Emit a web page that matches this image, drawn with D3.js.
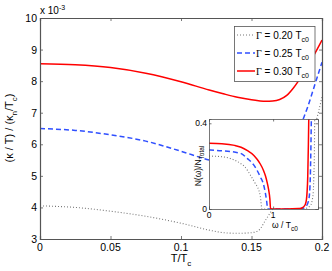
<!DOCTYPE html>
<html>
<head>
<meta charset="utf-8">
<script src="https://cdn.jsdelivr.net/npm/d3@7"></script>
<style>
  body { margin: 0; background: #fff; }
  svg { display: block; font-family: "Liberation Sans", Arial, sans-serif; }
</style>
</head>
<body>
<div id="chart"></div>
<script>
// main plot: T/Tc grid and kappa/T curves (x 1e-3)
const tGrid = [0, 0.025, 0.05, 0.075, 0.1, 0.12, 0.13, 0.14, 0.15, 0.155, 0.16, 0.165, 0.17, 0.175, 0.18, 0.185, 0.19, 0.195, 0.2];
const kappa20 = [4.05, 4.0, 3.88, 3.72, 3.5, 3.28, 3.2, 3.18, 3.2, 3.27, 3.6, 3.95, 4.3, 4.7, 5.1, 5.55, 6.0, 6.6, 7.5];
const kappa25 = [6.5, 6.44, 6.3, 6.1, 5.78, 5.5, 5.4, 5.3, 5.24, 5.23, 5.25, 5.3, 5.4, 5.6, 5.95, 6.6, 7.2, 7.9, 8.6];
const kappa30 = [8.55, 8.52, 8.43, 8.25, 7.98, 7.72, 7.6, 7.49, 7.41, 7.38, 7.36, 7.37, 7.42, 7.55, 7.8, 8.12, 8.48, 8.88, 9.3];
const xTicks = [0, 0.05, 0.1, 0.15, 0.2];
const yTicks = [3, 4, 5, 6, 7, 8, 9, 10];

// inset: density of states
const w20 = [0, 0.2, 0.49, 0.55, 0.644, 0.72, 0.775, 0.8, 0.827, 0.9, 1.3, 1.5, 1.58, 1.62, 1.635, 1.645, 1.65];
const dos20 = [0.247, 0.244, 0.213, 0.2, 0.159, 0.12, 0.089, 0.06, 0, 0, 0, 0.003, 0.015, 0.06, 0.15, 0.3, 0.5];
const w25 = [0, 0.2, 0.49, 0.6, 0.7, 0.8, 0.85, 0.88, 0.9, 0.915, 1.0, 1.3, 1.45, 1.52, 1.56, 1.58, 1.59, 1.6];
const dos25 = [0.275, 0.272, 0.26, 0.235, 0.205, 0.15, 0.115, 0.073, 0.035, 0, 0, 0, 0.003, 0.015, 0.05, 0.15, 0.3, 0.5];
const w30 = [0, 0.2, 0.4, 0.5, 0.6, 0.7, 0.75, 0.8, 0.85, 0.88, 0.91, 0.93, 0.95, 0.96, 1.0, 1.2, 1.4, 1.45, 1.5, 1.52, 1.54, 1.55, 1.56];
const dos30 = [0.307, 0.305, 0.297, 0.288, 0.272, 0.25, 0.232, 0.21, 0.18, 0.155, 0.12, 0.09, 0.045, 0, 0, 0, 0.002, 0.005, 0.02, 0.045, 0.15, 0.3, 0.5];
const insetXTicks = [0, 1];
const insetYTicks = [0, 0.4];

const gammaLabels = ["0.20", "0.25", "0.30"];

const W = 332, H = 271;
const axisColor = "#555";
const styles = [
    { color: "#777", width: 1.1, dash: "1,2" },
    { color: "#2f4fff", width: 1.5, dash: "5,3" },
    { color: "#ff0000", width: 1.5, dash: null }
];

const svg = d3.select("#chart").append("svg")
    .attr("width", W)
    .attr("height", H);
const defs = svg.append("defs");

// ---------- main axes ----------
const m = { left: 40, right: 322, top: 18, bottom: 239 };
const x = d3.scaleLinear().domain([0, 0.2]).range([m.left, m.right]);
const y = d3.scaleLinear().domain([3, 10]).range([m.bottom, m.top]);

defs.append("clipPath").attr("id", "mainClip")
    .append("rect")
    .attr("x", m.left).attr("y", m.top)
    .attr("width", m.right - m.left).attr("height", m.bottom - m.top);

const line = d3.line()
    .x(d => x(d[0]))
    .y(d => y(d[1]))
    .curve(d3.curveMonotoneX);

[kappa20, kappa25, kappa30].forEach((s, i) => {
    svg.append("path")
        .datum(tGrid.map((t, j) => [t, s[j]]))
        .attr("clip-path", "url(#mainClip)")
        .attr("d", line)
        .attr("fill", "none")
        .attr("stroke", styles[i].color)
        .attr("stroke-width", styles[i].width)
        .attr("stroke-dasharray", styles[i].dash);
});

function boxAxes(g, xs, ys, xt, yt, len) {
    g.append("g").attr("transform", `translate(0,${ys.range()[0]})`)
        .call(d3.axisBottom(xs).tickValues(xt).tickSize(-len).tickFormat(""));
    g.append("g").attr("transform", `translate(0,${ys.range()[1]})`)
        .call(d3.axisTop(xs).tickValues(xt).tickSize(-len).tickFormat(""));
    g.append("g").attr("transform", `translate(${xs.range()[0]},0)`)
        .call(d3.axisLeft(ys).tickValues(yt).tickSize(-len).tickFormat(""));
    g.append("g").attr("transform", `translate(${xs.range()[1]},0)`)
        .call(d3.axisRight(ys).tickValues(yt).tickSize(-len).tickFormat(""));
    g.selectAll(".domain, .tick line").attr("stroke", axisColor).attr("stroke-width", 0.8);
}

const mainAxes = svg.append("g");
boxAxes(mainAxes, x, y, xTicks, yTicks, 3);
mainAxes.selectAll(".domain").attr("stroke-width", 1.2);

svg.append("g").selectAll("text")
    .data(xTicks).enter().append("text")
    .attr("x", d => x(d))
    .attr("y", 251)
    .attr("text-anchor", "middle")
    .attr("font-size", 10.5)
    .text(d => d3.format("~g")(d));

svg.append("g").selectAll("text")
    .data(yTicks).enter().append("text")
    .attr("x", m.left - 3)
    .attr("y", d => y(d) + 4)
    .attr("text-anchor", "end")
    .attr("font-size", 10.5)
    .text(d => d);

const expo = svg.append("text").attr("x", 40).attr("y", 14).attr("font-size", 10);
expo.append("tspan").text("x 10");
expo.append("tspan").attr("dy", -4).attr("font-size", 7).text("-3");

const xl = svg.append("text").attr("x", 181).attr("y", 262)
    .attr("text-anchor", "middle").attr("font-size", 11);
xl.append("tspan").text("T/T");
xl.append("tspan").attr("dy", 4).attr("font-size", 8).text("c");

const yl = svg.append("g").attr("transform", "translate(13,128) rotate(-90)")
    .append("text")
    .attr("text-anchor", "middle").attr("font-size", 11);
yl.append("tspan").text("(κ / T) / (κ");
yl.append("tspan").attr("dy", 4).attr("font-size", 8).text("n");
yl.append("tspan").attr("dy", -4).text("/T");
yl.append("tspan").attr("dy", 4).attr("font-size", 8).text("c");
yl.append("tspan").attr("dy", -4).text(")");

// ---------- legend ----------
const leg = svg.append("g");
leg.append("rect")
    .attr("x", 234.5).attr("y", 26.5).attr("width", 80.5).attr("height", 55)
    .attr("fill", "#fff").attr("stroke", axisColor).attr("stroke-width", 0.8);
gammaLabels.forEach((lab, i) => {
    const ly = 35 + i * 18;
    leg.append("line")
        .attr("x1", 237).attr("x2", 255).attr("y1", ly).attr("y2", ly)
        .attr("stroke", styles[i].color)
        .attr("stroke-width", styles[i].width)
        .attr("stroke-dasharray", styles[i].dash);
    const t = leg.append("text").attr("x", 256).attr("y", ly + 3.5).attr("font-size", 10);
    t.append("tspan").attr("font-family", "'Liberation Serif', serif").text("Γ");
    t.append("tspan").text(` = ${lab} T`);
    t.append("tspan").attr("dy", 3).attr("font-size", 7).text("c0");
});

// ---------- inset ----------
const ins = { left: 209, right: 318, top: 119, bottom: 209 };
const ix = d3.scaleLinear().domain([0, 1.7]).range([ins.left, ins.right]);
const iy = d3.scaleLinear().domain([0, 0.42]).range([ins.bottom, ins.top]);

svg.append("rect")
    .attr("x", ins.left).attr("y", ins.top)
    .attr("width", ins.right - ins.left).attr("height", ins.bottom - ins.top)
    .attr("fill", "#fff");

defs.append("clipPath").attr("id", "insetClip")
    .append("rect")
    .attr("x", ins.left).attr("y", ins.top)
    .attr("width", ins.right - ins.left).attr("height", ins.bottom - ins.top);

const iline = d3.line()
    .x(d => ix(d[0]))
    .y(d => iy(d[1]))
    .curve(d3.curveMonotoneX);

[[w20, dos20], [w25, dos25], [w30, dos30]].forEach((s, i) => {
    svg.append("path")
        .datum(s[0].map((w, j) => [w, s[1][j]]))
        .attr("clip-path", "url(#insetClip)")
        .attr("d", iline)
        .attr("fill", "none")
        .attr("stroke", styles[i].color)
        .attr("stroke-width", styles[i].width)
        .attr("stroke-dasharray", styles[i].dash);
});

boxAxes(svg.append("g"), ix, iy, insetXTicks, insetYTicks, 2.5);

svg.append("g").selectAll("text")
    .data(insetXTicks).enter().append("text")
    .attr("x", d => ix(d))
    .attr("y", 217.5)
    .attr("text-anchor", "middle")
    .attr("font-size", 8.5)
    .text(d => d);

svg.append("g").selectAll("text")
    .data(insetYTicks).enter().append("text")
    .attr("x", ins.left - 2)
    .attr("y", d => iy(d) + 3)
    .attr("text-anchor", "end")
    .attr("font-size", 8.5)
    .text(d => d);

const ixl = svg.append("text").attr("x", 272).attr("y", 228).attr("font-size", 8.5);
ixl.append("tspan").text("ω / T");
ixl.append("tspan").attr("dy", 3).attr("font-size", 6.5).text("c0");

const iyl = svg.append("g").attr("transform", "translate(201,166) rotate(-90)")
    .append("text")
    .attr("text-anchor", "middle").attr("font-size", 8.5);
iyl.append("tspan").text("N(ω)/N");
iyl.append("tspan").attr("dy", 3).attr("font-size", 6.5).text("Total");
</script>
</body>
</html>
